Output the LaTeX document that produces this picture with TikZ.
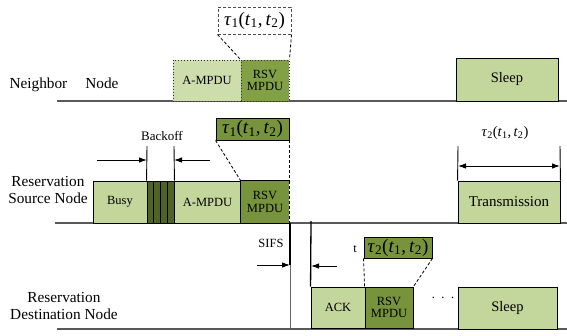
\documentclass[tikz,border=0pt]{standalone}
\usepackage{fontspec}
\setmainfont{Liberation Serif}
\usetikzlibrary{arrows.meta}
\definecolor{lgreen}{HTML}{C3D69B}
\definecolor{nlgreen}{HTML}{CDDDAB}
\definecolor{mgreen}{HTML}{77933C}
\definecolor{nmgreen}{HTML}{82A046}
\definecolor{dgreen}{HTML}{4F6228}
\tikzset{
  box/.style={draw=black, line width=0.9pt, inner sep=0pt, align=center, font=\rmfamily\fontsize{12.5}{12.5}\selectfont},
  nbox/.style={box, draw=black!80, dotted, line width=1pt},
  tbox/.style={inner sep=0pt, font=\rmfamily\fontsize{19}{19}\selectfont},
  lbl/.style={align=center, font=\rmfamily\fontsize{15.3}{17}\selectfont},
  base/.style={draw=black!65, line width=1.4pt},
  conn/.style={draw=black, line width=0.8pt, dash pattern=on 3pt off 2pt},
  arr/.style={draw=black, line width=0.9pt, -{Latex[length=8pt,width=5.5pt]}},
  vline/.style={draw=black, line width=0.9pt},
}
\newcommand{\tauval}[1]{\textit{τ}\textsubscript{#1}(\textit{t}\textsubscript{1},\,\textit{t}\textsubscript{2})}
\begin{document}
\begin{tikzpicture}[x=1pt,y=-1pt]
\useasboundingbox (0,0) rectangle (567,335);
% ---------- Neighbor row ----------
\coordinate (nl) at (57,101);
\coordinate (nr) at (567,101);
\draw[base] (nl) -- (nr);
\node[lbl] (nlab) at (64,85) {Neighbor\hspace{18pt}Node};
\node[nbox, fill=nlgreen, minimum width=68pt, minimum height=41pt] (nA) at (207,80.5) {A-MPDU};
\node[nbox, fill=nmgreen, minimum width=48pt, minimum height=41pt] (nR) at (265,80.5) {RSV\\MPDU};
\node[tbox, draw=black!70, line width=1pt, dash pattern=on 3pt off 2pt, minimum width=73pt, minimum height=27pt] (nT) at (254.5,20.5) {\tauval{1}};
\draw[conn] (nT.south west) -- (nR.north west);
\draw[conn] (nT.south east) -- (nR.north east);
\node[box, fill=lgreen, minimum width=102pt, minimum height=43pt, font=\rmfamily\fontsize{14.5}{14.5}\selectfont] (nS) at (507,79.5) {Sleep};
% ---------- Source row ----------
\coordinate (sl) at (55,223);
\coordinate (sr) at (567,223);
\draw[base] (sl) -- (sr);
\node[lbl] (slab) at (48,190) {Reservation\\Source Node};
\node[box, fill=lgreen, minimum width=54pt, minimum height=42pt] (sB) at (120,202) {Busy};
\foreach \i in {0,1,2,3}{
  \node[box, fill=dgreen, minimum width=6.75pt, minimum height=42pt] (bo\i) at ({150.375+6.75*\i},202) {};
}
\node[box, fill=lgreen, minimum width=67pt, minimum height=42pt] (sA) at (207.5,202) {A-MPDU};
\node[box, draw=none, fill=mgreen, minimum width=48pt, minimum height=42pt] (sR) at (265,202) {RSV\\MPDU};
\draw[vline] (sR.north east) -- (sR.north west) -- (sR.south west) -- (sR.south east);
\draw[conn] (sR.north east) -- (sR.south east);
\node[tbox, draw=black, line width=0.9pt, fill=mgreen, minimum width=73pt, minimum height=22pt] (sT) at (252.5,129) {\tauval{1}};
\draw[conn] (sT.south west) -- (sR.north west);
\draw[conn] (sT.south east) -- (sR.north east);
% backoff
\node[lbl, font=\rmfamily\fontsize{13}{13}\selectfont] (bolab) at (162,136) {Backoff};
\coordinate (bl) at (147,146);
\coordinate (br) at (174,146);
\draw[vline] (bl) -- (bo0.north west);
\draw[vline] (br) -- (bo3.north east);
\coordinate (bla) at (97,160);
\coordinate (blb) at (147,160);
\coordinate (bra) at (210,160);
\coordinate (brb) at (174,160);
\draw[arr] (bla) -- (blb);
\draw[arr] (bra) -- (brb);
% transmission
\node[box, fill=lgreen, minimum width=102pt, minimum height=42pt, font=\rmfamily\fontsize{15}{15}\selectfont] (sX) at (509,202) {Transmission};
\coordinate (tl) at (458,146);
\coordinate (tr) at (560,146);
\draw[vline] (tl) -- (sX.north west);
\draw[vline] (tr) -- (sX.north east);
\coordinate (tal) at (458,166);
\coordinate (tar) at (560,166);
\draw[draw=black, line width=0.9pt, {Latex[length=8pt,width=5.5pt]}-{Latex[length=8pt,width=5.5pt]}] (tal) -- (tar);
\node[tbox, font=\rmfamily\fontsize{14.5}{14.5}\selectfont] (xT) at (505,133) {\tauval{2}};
% ---------- Destination row ----------
\coordinate (dl) at (57,329);
\coordinate (dr) at (567,329);
\draw[base] (dl) -- (dr);
\node[lbl] (dlab) at (64,306) {Reservation\\Destination Node};
% SIFS
\coordinate (s1a) at (290,223);
\coordinate (s1b) at (290,265);
\coordinate (s1c) at (290,329);
\draw[draw=black, line width=1.5pt] (s1a) -- (s1b);
\draw[draw=black!60, line width=1pt] (s1b) -- (s1c);
\coordinate (s2a) at (311,221);
\node[box, fill=lgreen, minimum width=54pt, minimum height=41pt] (dA) at (338,307.5) {ACK};
\draw[draw=black, line width=1.3pt] (s2a) -- (dA.north west);
\coordinate (sa1) at (257,265);
\coordinate (sa2) at (337,266);
\coordinate (sb2) at (311,266);
\draw[arr] (sa1) -- (s1b);
\draw[arr] (sa2) -- (sb2);
\node[lbl, font=\rmfamily\fontsize{12.5}{12.5}\selectfont] (sifs) at (271,243) {SIFS};
\node[lbl, font=\rmfamily\fontsize{12.5}{12.5}\selectfont] (tlab) at (355,249) {t};
\node[box, fill=mgreen, minimum width=48pt, minimum height=41pt] (dR) at (389,307.5) {RSV\\MPDU};
\node[tbox, draw=black, line width=0.9pt, fill=mgreen, minimum width=68pt, minimum height=21pt] (dT) at (398,247.5) {\tauval{2}};
\draw[conn] (dT.south west) -- (dR.north west);
\draw[conn] (dT.south east) -- (dR.north east);
\node[lbl] (dots) at (443,298) {$\cdot\,\cdot\,\cdot$};
\node[box, fill=lgreen, minimum width=99pt, minimum height=42pt, font=\rmfamily\fontsize{14.5}{14.5}\selectfont] (dS) at (507.5,308) {Sleep};
\end{tikzpicture}
\end{document}
